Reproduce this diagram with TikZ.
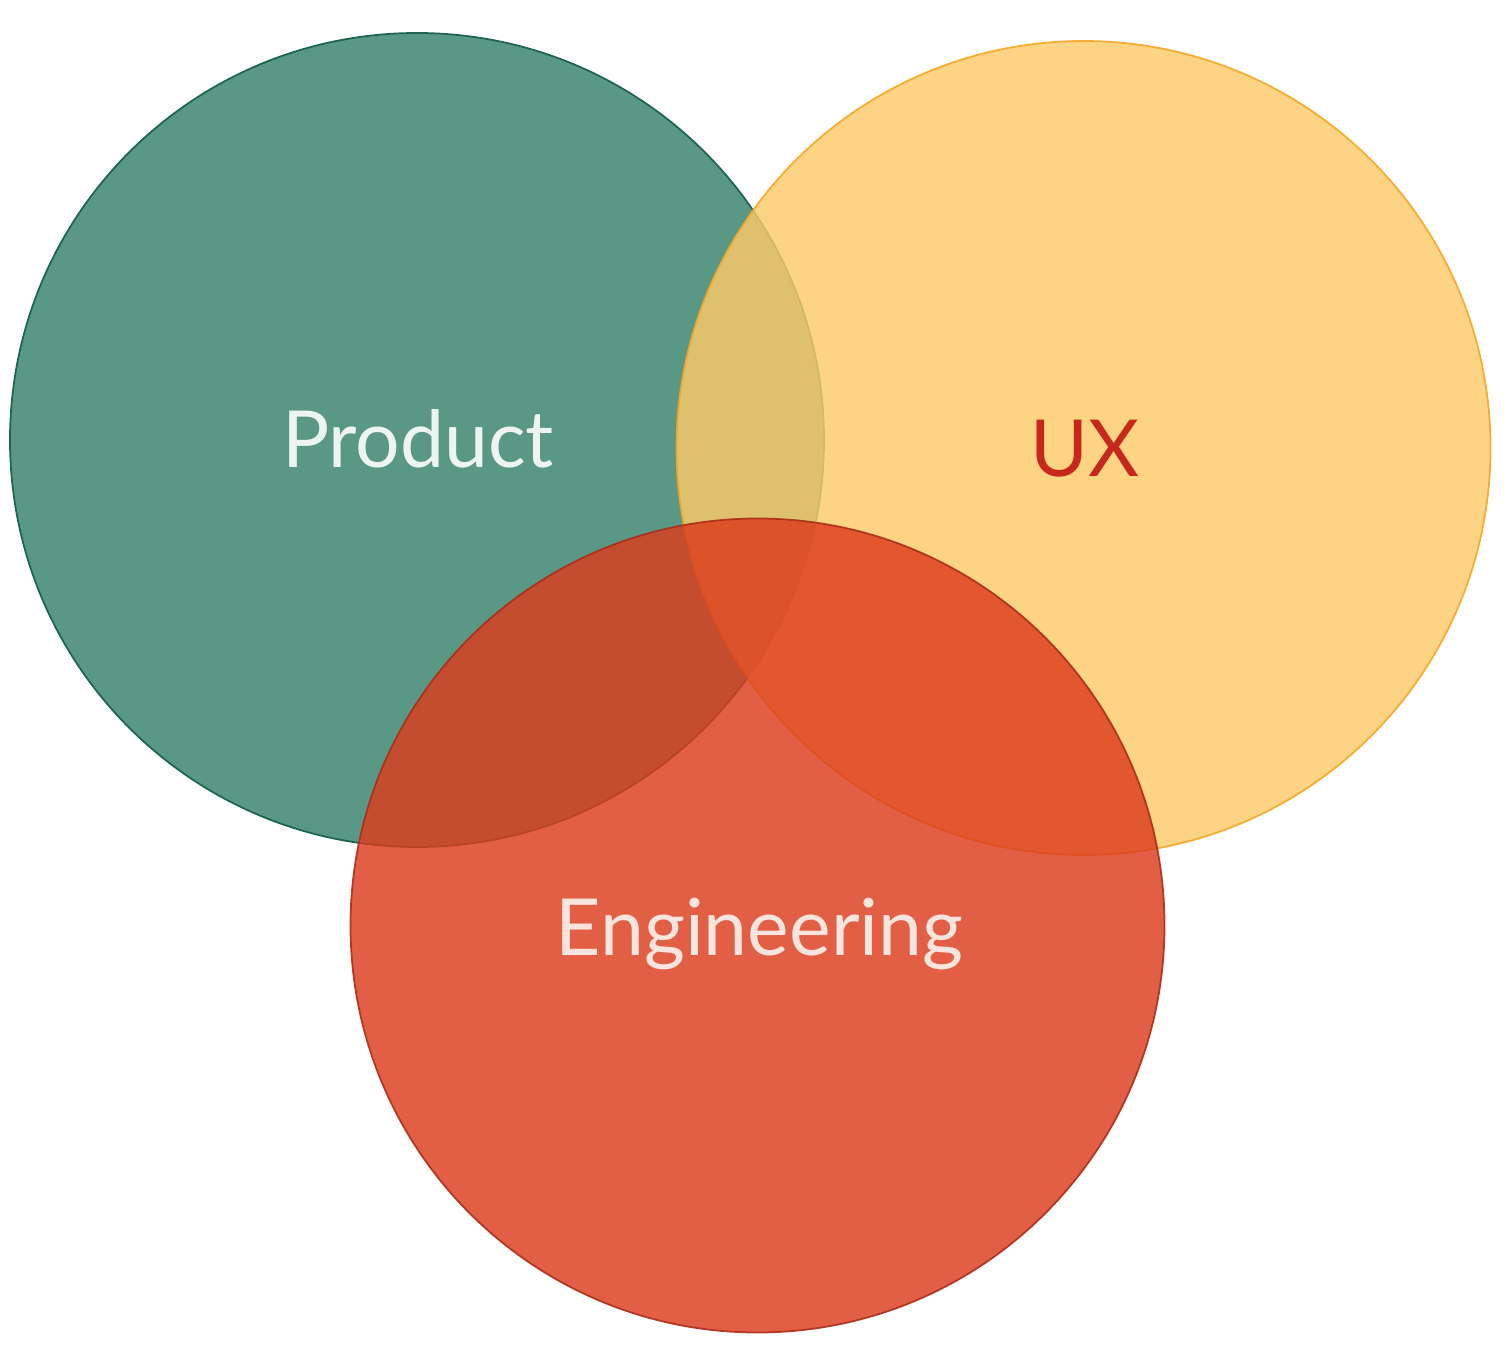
\documentclass[tikz,border=0pt]{standalone}
\usepackage{fontspec}
\setmainfont{Lato}
\usepackage{tikz}

\definecolor{prodfill}{RGB}{90,152,134}
\definecolor{proddraw}{RGB}{30,100,82}
\definecolor{uxfill}{RGB}{253,203,104}
\definecolor{uxdraw}{RGB}{245,166,35}
\definecolor{engfill}{RGB}{220,60,28}
\definecolor{engdraw}{RGB}{170,45,25}
\definecolor{prodtext}{RGB}{238,244,242}
\definecolor{uxtext}{RGB}{200,40,28}
\definecolor{engtext}{RGB}{250,228,222}

\tikzset{
  set/.style={circle, inner sep=0pt, minimum size=8.14cm, line width=0.5pt},
  label/.style={anchor=base, font=\fontsize{22.4}{27}\selectfont}
}

\begin{document}
\begin{tikzpicture}
	\useasboundingbox (0,0) rectangle (15.07,13.5);
	% the three sets
	\node[set, fill=prodfill, draw=proddraw] (product) at (4.17,9.10) {};
	\node[set, fill=uxfill, draw=uxdraw, fill opacity=0.82, draw opacity=0.9] (ux) at (10.835,9.02) {};
	\node[set, fill=engfill, draw=engdraw, fill opacity=0.82, draw opacity=0.9] (eng) at (7.575,4.245) {};

	% names
	\node[label, text=prodtext] (productname) at (4.18,8.82) {Product};
	\node[label, text=uxtext] (uxname) at (10.85,8.73) {UX};
	\node[label, text=engtext] (engname) at (7.595,3.95) {Engineering};
\end{tikzpicture}
\end{document}
